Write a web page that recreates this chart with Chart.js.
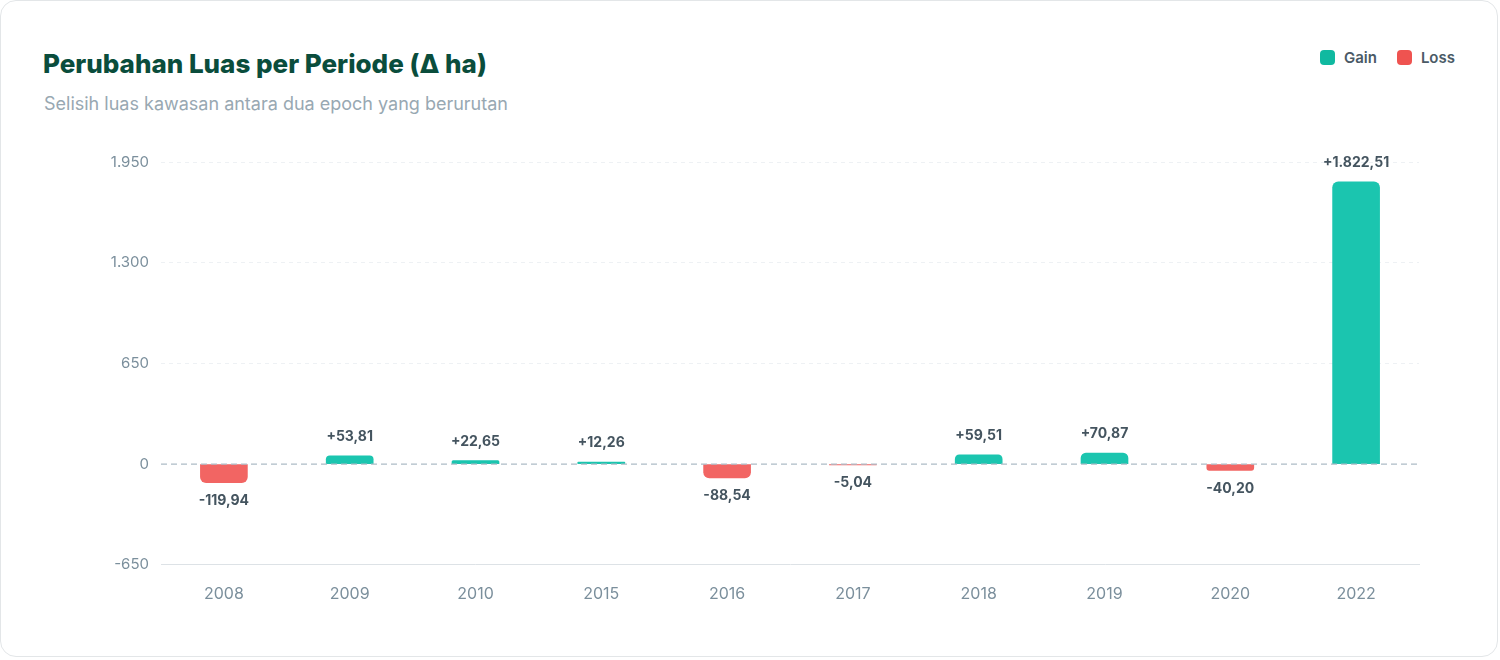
<!DOCTYPE html>
<html>
<head>
<meta charset="utf-8">
<script src="https://cdn.jsdelivr.net/npm/chart.js@4.4.1/dist/chart.umd.min.js"></script>
<style>
  html, body { margin: 0; padding: 0; background: #ffffff; }
  body { width: 1500px; height: 660px; position: relative; font-family: Inter, "Noto Sans", sans-serif; }
  .card {
    position: absolute; left: 0; top: 0; width: 1498px; height: 657px;
    border: 1px solid #e3e6e8; border-radius: 16px; background: #fff; box-sizing: border-box;
  }
  .title { position: absolute; left: 42px; top: 47px; font-size: 26px; font-weight: 800; color: #0a4d3c; }
  .subtitle { position: absolute; left: 43px; top: 92px; font-size: 18px; color: #98a8b2; }
  .legend { position: absolute; right: 42px; top: 47px; display: flex; gap: 20px; font-size: 15px; font-weight: 600; color: #4a5a66; }
  .legend span { display: flex; align-items: center; }
  .legend i { display: inline-block; width: 15px; height: 15px; border-radius: 4px; margin-right: 9px; }
  .chart-box { position: absolute; left: 100px; top: 140px; width: 1330px; height: 475px; }
</style>
</head>
<body>
<div class="card">
  <div class="title">Perubahan Luas per Periode (Δ ha)</div>
  <div class="subtitle">Selisih luas kawasan antara dua epoch yang berurutan</div>
  <div class="legend">
    <span><i style="background:#10b9a0"></i>Gain</span>
    <span><i style="background:#ef5350"></i>Loss</span>
  </div>
  <div class="chart-box"><canvas id="deltaChart"></canvas></div>
</div>
<script>
const periods = ["2008", "2009", "2010", "2015", "2016", "2017", "2018", "2019", "2020", "2022"];
const deltaHa = [-119.94, 53.81, 22.65, 12.26, -88.54, -5.04, 59.51, 70.87, -40.20, 1822.51];
const yTicks = [-650, 0, 650, 1300, 1950];

const gainValues = deltaHa.map((v) => (v > 0 ? v : null));
const lossValues = deltaHa.map((v) => (v < 0 ? v : null));

// Indonesian number format: 1.822,51
function fmtId(v, dec) {
    const parts = Math.abs(v).toFixed(dec).split(".");
    const intPart = parts[0].replace(/\B(?=(\d{3})+(?!\d))/g, ".");
    return (v < 0 ? "-" : "") + intPart + (parts[1] ? "," + parts[1] : "");
}

const barLabels = {
    id: "barLabels",
    afterDatasetsDraw(chart) {
        const ctx = chart.ctx;
        const yScale = chart.scales.y;
        const area = chart.chartArea;
        // dashed zero line, over the bars
        const y0 = yScale.getPixelForValue(0);
        ctx.save();
        ctx.strokeStyle = "#adbcc6";
        ctx.lineWidth = 1.3;
        ctx.setLineDash([6, 4]);
        ctx.beginPath();
        ctx.moveTo(area.left, y0);
        ctx.lineTo(area.right, y0);
        ctx.stroke();
        ctx.restore();

        ctx.save();
        ctx.font = "bold 14px Inter, sans-serif";
        ctx.fillStyle = "#44545f";
        ctx.textAlign = "center";
        ctx.textBaseline = "middle";
        chart.data.datasets.forEach((ds, di) => {
            const meta = chart.getDatasetMeta(di);
            meta.data.forEach((bar, i) => {
                const v = ds.data[i];
                if (v === null) return;
                const txt = (v > 0 ? "+" : "") + fmtId(v, 2);
                const y = v > 0 ? Math.min(bar.y, y0) - 19 : Math.max(bar.y, y0) + 18;
                ctx.fillText(txt, bar.x, y);
            });
        });
        ctx.restore();
    }
};

new Chart(document.getElementById("deltaChart"), {
    type: "bar",
    data: {
        labels: periods,
        datasets: [
            { label: "Gain", data: gainValues, backgroundColor: "#1bc5af", borderRadius: 6, borderSkipped: "start", grouped: false, barThickness: 47 },
            { label: "Loss", data: lossValues, backgroundColor: "#f26563", borderRadius: 6, borderSkipped: "start", grouped: false, barThickness: 47 },
        ],
    },
    options: {
        responsive: true,
        maintainAspectRatio: false,
        animation: false,
        layout: { padding: { top: 9, right: 12, bottom: 0, left: 0 } },
        plugins: { legend: { display: false }, tooltip: { enabled: false } },
        scales: {
            x: {
                grid: { display: false },
                border: { display: true, color: "#dde2e6", width: 1 },
                ticks: { color: "#7b8f9c", font: { family: "Inter", size: 16 }, padding: 12 },
            },
            y: {
                min: yTicks[0],
                max: yTicks[yTicks.length - 1],
                afterBuildTicks: (scale) => { scale.ticks = yTicks.map((v) => ({ value: v })); },
                afterFit: (scale) => { scale.width = 60; },
                border: { display: false, dash: [4, 4] },
                grid: {
                    drawTicks: false,
                    color: (c) => (c.tick && (c.tick.value === 0 || c.tick.value === yTicks[0]) ? "rgba(0,0,0,0)" : "#eef1f4"),
                },
                ticks: {
                    color: "#7b8f9c",
                    font: { family: "Inter", size: 15 },
                    padding: 12,
                    callback: (v) => fmtId(v, 0),
                },
            },
        },
    },
    plugins: [barLabels],
});
</script>
</body>
</html>
